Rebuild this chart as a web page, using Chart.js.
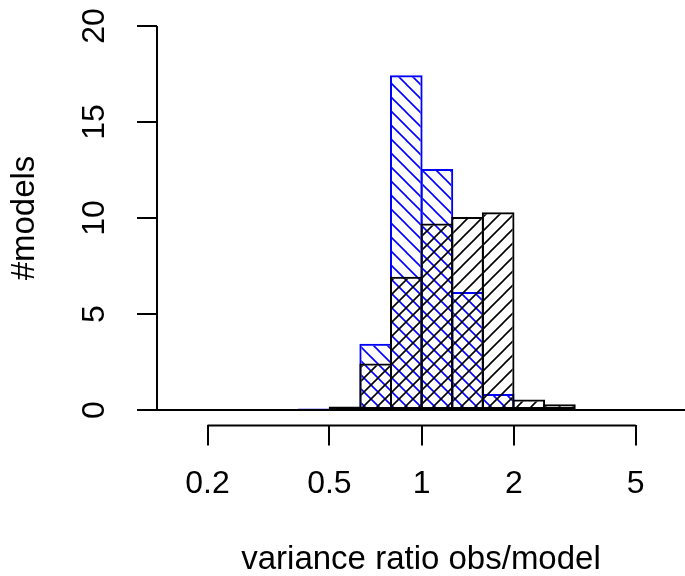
<!DOCTYPE html>
<html>
<head>
<meta charset="utf-8">
<title>variance ratio histogram</title>
<script src="https://cdn.jsdelivr.net/npm/chart.js@4.4.1/dist/chart.umd.min.js"></script>
<style>
  html, body { margin: 0; padding: 0; background: #fff; }
  canvas { display: block; }
</style>
</head>
<body>
<canvas id="chart" width="685" height="576"></canvas>
<script>
// bin midpoints in log10(variance ratio), bins are 0.1 wide
const binMids = [-0.75, -0.65, -0.55, -0.45, -0.35, -0.25, -0.15, -0.05, 0.05, 0.15, 0.25, 0.35, 0.45, 0.55, 0.65, 0.75];
const blueCounts = [0, 0, 0, 0, 0.08, 0, 3.45, 17.43, 12.55, 6.15, 0.83, 0, 0, 0, 0, 0];
const blackCounts = [0, 0, 0, 0, 0, 0.18, 2.42, 6.94, 9.72, 10.05, 10.3, 0.55, 0.3, 0, 0, 0];
const xTickRatios = [0.2, 0.5, 1, 2, 5];
const xTickLabels = ['0.2', '0.5', '1', '2', '5'];
const yTicks = [0, 5, 10, 15, 20];
const yTickLabels = ['0', '5', '10', '15', '20'];

const FAMILY = "'Liberation Sans', Arial, Helvetica, sans-serif";
const font = { family: FAMILY, size: 32, lineHeight: 1 };
const titleFont = { family: FAMILY, size: 33, lineHeight: 1 };

// hatch fill like R's density/angle shading
function hatch(color, dir) {
    const p = 14;
    const c = document.createElement('canvas');
    c.width = p;
    c.height = p;
    const g = c.getContext('2d');
    g.strokeStyle = color;
    g.lineWidth = 1.6;
    g.beginPath();
    if (dir === '/') {
        g.moveTo(-1, p + 1); g.lineTo(p + 1, -1);
        g.moveTo(-1, 1); g.lineTo(1, -1);
        g.moveTo(p - 1, p + 1); g.lineTo(p + 1, p - 1);
    } else {
        g.moveTo(-1, -1); g.lineTo(p + 1, p + 1);
        g.moveTo(p - 1, -1); g.lineTo(p + 1, 1);
        g.moveTo(-1, p - 1); g.lineTo(1, p + 1);
    }
    g.stroke();
    return g.createPattern(c, 'repeat');
}

// R style axes: line only between first and last tick, y labels rotated
const rAxes = {
    id: 'rAxes',
    afterDatasetsDraw(chart) {
        const { ctx, chartArea, scales: { x, y } } = chart;
        ctx.save();
        ctx.strokeStyle = '#000';
        ctx.lineWidth = 2;
        const y0 = y.getPixelForValue(0);
        ctx.beginPath();
        ctx.moveTo(chartArea.left, y0);
        ctx.lineTo(chartArea.right, y0);
        ctx.moveTo(chartArea.left, y.getPixelForValue(yTicks[0]));
        ctx.lineTo(chartArea.left, y.getPixelForValue(yTicks[yTicks.length - 1]));
        ctx.moveTo(x.getPixelForValue(Math.log10(xTickRatios[0])), chartArea.bottom);
        ctx.lineTo(x.getPixelForValue(Math.log10(xTickRatios[xTickRatios.length - 1])), chartArea.bottom);
        ctx.stroke();

        ctx.fillStyle = '#000';
        ctx.font = '32px ' + FAMILY;
        ctx.textAlign = 'center';
        ctx.textBaseline = 'alphabetic';
        yTicks.forEach((v, i) => {
            ctx.save();
            ctx.translate(chartArea.left - 53, y.getPixelForValue(v));
            ctx.rotate(-Math.PI / 2);
            ctx.fillText(yTickLabels[i], 0, 0);
            ctx.restore();
        });
        ctx.restore();
    }
};

const ctx = document.getElementById('chart');
new Chart(ctx, {
    type: 'bar',
    data: {
        datasets: [
            {
                label: 'black',
                data: binMids.map((m, i) => ({ x: m, y: blackCounts[i] })),
                backgroundColor: hatch('#000000', '/'),
                borderColor: '#000000',
                borderWidth: 2,
                borderSkipped: false,
                order: 1,
            },
            {
                label: 'blue',
                data: binMids.map((m, i) => ({ x: m, y: blueCounts[i] })),
                backgroundColor: hatch('#0000ff', '\\'),
                borderColor: '#0000ff',
                borderWidth: 2,
                borderSkipped: false,
                order: 2,
            },
        ],
    },
    options: {
        responsive: false,
        animation: false,
        layout: { padding: { top: 10.6, right: 0, bottom: 0, left: 0 } },
        datasets: { bar: { grouped: false, barPercentage: 1.065, categoryPercentage: 1 } },
        plugins: { legend: { display: false }, tooltip: { enabled: false } },
        scales: {
            x: {
                type: 'linear',
                min: -0.864,
                max: 0.86,
                offset: false,
                afterBuildTicks: (s) => { s.ticks = xTickRatios.map((r) => ({ value: Math.log10(r) })); },
                afterFit: (s) => { s.height = 150.6; },
                grid: { offset: false, drawOnChartArea: false, drawTicks: true, tickLength: 20, color: '#000', lineWidth: 2 },
                border: { display: false },
                ticks: {
                    callback: (v, i) => xTickLabels[i],
                    font: font,
                    color: '#000',
                    padding: 22.6,
                    maxRotation: 0,
                    autoSkip: false,
                },
                title: { display: true, text: 'variance ratio obs/model', font: titleFont, color: '#000', padding: 0 },
            },
            y: {
                min: -0.8,
                max: 20.8,
                afterBuildTicks: (s) => { s.ticks = yTicks.map((v) => ({ value: v })); },
                afterFit: (s) => { s.width = 157; },
                grid: { offset: false, drawOnChartArea: false, drawTicks: true, tickLength: 20, color: '#000', lineWidth: 2 },
                border: { display: false },
                ticks: { display: false },
                title: { display: true, text: '#models', font: titleFont, color: '#000', padding: { top: 8, bottom: 0 } },
            },
        },
    },
    plugins: [rAxes],
});
</script>
</body>
</html>
